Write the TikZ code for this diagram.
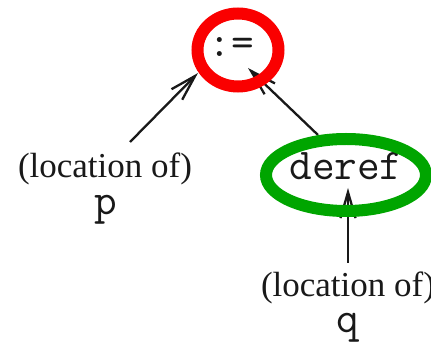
\documentclass[tikz,border=0pt]{standalone}
\usepackage{fontspec}
\setmainfont{Liberation Serif}
\usetikzlibrary{arrows.meta,shapes.geometric}
\definecolor{ringred}{RGB}{250,0,0}
\definecolor{ringgreen}{RGB}{0,165,0}
\definecolor{ink}{RGB}{25,25,25}
\tikzset{
  lbl/.style={anchor=base,inner sep=0pt,text=ink,font=\fontsize{35}{40}\selectfont},
  code/.style={anchor=base,inner sep=0pt,text=ink,font=\fontsize{44}{48}\selectfont\ttfamily},
  ptr/.style={line width=2.3pt,draw=ink,-{Straight Barb[length=26pt,width=15pt,line width=2.3pt]}},
  ring/.style={ellipse,draw,line width=12pt,inner sep=0pt}
}
\begin{document}
\begin{tikzpicture}[x=1pt,y=-1pt]
\useasboundingbox (0,0) rectangle (431,344);
% text
\node[code] (assign) at (231,57) {:=};
\node[code] (deref) at (346,180) {deref};
\node[lbl] (locp) at (105,178) {(location of)};
\node[code] (p) at (106,215) {p};
\node[lbl] (locq) at (348,297) {(location of)};
\node[code] (q) at (348,333) {q};
% connector ends
\coordinate (s1) at (130,142);
\coordinate (t1) at (198,73);
\coordinate (s2) at (318,135);
\coordinate (t2) at (248,68);
\coordinate (s3) at (348,263);
\coordinate (t3) at (348,188);
\draw[ptr] (s1) -- (t1);
\draw[ptr] (s2) -- (t2);
\draw[ptr] (s3) -- (t3);
% rings
\node[ring,draw=ringred,minimum width=81pt,minimum height=73pt] (redring) at (238,50) {};
\node[ring,draw=ringgreen,minimum width=160pt,minimum height=72pt] (greenring) at (346,175) {};
\end{tikzpicture}
\end{document}
